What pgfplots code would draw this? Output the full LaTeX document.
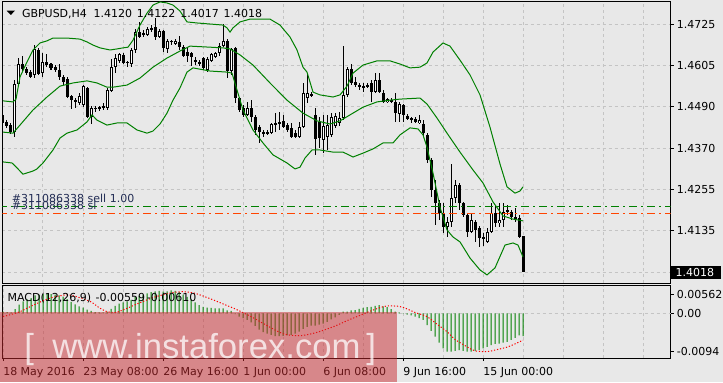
\documentclass[border=0pt]{standalone}
\usepackage{fontspec}
\setmainfont{DejaVu Sans}
\newfontfamily\wmfont{Liberation Sans}
\usepackage{pgfplots}
\pgfplotsset{compat=1.18}
\usepackage{pgfplotstable}
\definecolor{bg}{RGB}{232,232,232}
\definecolor{gridc}{RGB}{196,196,196}
\definecolor{mtgreen}{RGB}{0,128,0}
\definecolor{ordred}{RGB}{255,69,0}
\definecolor{ordtxt}{RGB}{35,45,85}
\definecolor{wmred}{RGB}{200,40,45}

\pgfplotstableread{
i o h l c
0 1.4466 1.4471 1.4437 1.4443
1 1.4446 1.4451 1.4429 1.4434
2 1.4437 1.4443 1.4412 1.4417
3 1.4417 1.4565 1.4403 1.4554
4 1.4554 1.4628 1.4548 1.4611
5 1.4611 1.4634 1.4588 1.4597
6 1.4597 1.4602 1.4580 1.4585
7 1.4588 1.4594 1.4571 1.4574
8 1.4580 1.4665 1.4571 1.4654
9 1.4651 1.4657 1.4580 1.4582
10 1.4585 1.4642 1.4574 1.4617
11 1.4617 1.4639 1.4602 1.4608
12 1.4611 1.4614 1.4594 1.4600
13 1.4602 1.4608 1.4588 1.4594
14 1.4594 1.4611 1.4565 1.4574
15 1.4574 1.4580 1.4551 1.4560
16 1.4568 1.4574 1.4514 1.4517
17 1.4520 1.4523 1.4483 1.4508
18 1.4508 1.4514 1.4486 1.4503
19 1.4500 1.4528 1.4494 1.4520
20 1.4494 1.4551 1.4488 1.4548
21 1.4543 1.4545 1.4457 1.4460
22 1.4460 1.4491 1.4440 1.4486
23 1.4486 1.4491 1.4474 1.4483
24 1.4488 1.4491 1.4477 1.4486
25 1.4486 1.4500 1.4480 1.4491
26 1.4486 1.4543 1.4480 1.4537
27 1.4534 1.4625 1.4531 1.4602
28 1.4602 1.4639 1.4585 1.4628
29 1.4620 1.4642 1.4614 1.4639
30 1.4637 1.4642 1.4611 1.4614
31 1.4617 1.4620 1.4602 1.4614
32 1.4611 1.4657 1.4602 1.4651
33 1.4651 1.4711 1.4642 1.4702
34 1.4702 1.4731 1.4685 1.4688
35 1.4694 1.4708 1.4688 1.4699
36 1.4694 1.4716 1.4691 1.4711
37 1.4714 1.4722 1.4702 1.4708
38 1.4716 1.4742 1.4679 1.4688
39 1.4688 1.4711 1.4685 1.4705
40 1.4705 1.4708 1.4645 1.4657
41 1.4654 1.4682 1.4642 1.4677
42 1.4674 1.4679 1.4665 1.4677
43 1.4668 1.4682 1.4665 1.4677
44 1.4674 1.4691 1.4651 1.4659
45 1.4659 1.4665 1.4631 1.4634
46 1.4645 1.4659 1.4617 1.4634
47 1.4642 1.4645 1.4605 1.4631
48 1.4622 1.4631 1.4608 1.4617
49 1.4611 1.4622 1.4605 1.4617
50 1.4628 1.4631 1.4594 1.4600
51 1.4594 1.4631 1.4588 1.4625
52 1.4620 1.4642 1.4617 1.4639
53 1.4631 1.4645 1.4628 1.4642
54 1.4642 1.4671 1.4634 1.4662
55 1.4662 1.4725 1.4659 1.4677
56 1.4677 1.4682 1.4571 1.4591
57 1.4591 1.4657 1.4580 1.4654
58 1.4657 1.4659 1.4500 1.4514
59 1.4514 1.4517 1.4474 1.4480
60 1.4486 1.4494 1.4460 1.4466
61 1.4466 1.4503 1.4463 1.4486
62 1.4486 1.4508 1.4446 1.4460
63 1.4460 1.4466 1.4409 1.4423
64 1.4431 1.4437 1.4386 1.4417
65 1.4417 1.4423 1.4403 1.4414
66 1.4414 1.4423 1.4409 1.4417
67 1.4414 1.4443 1.4412 1.4440
68 1.4440 1.4471 1.4417 1.4443
69 1.4440 1.4474 1.4423 1.4446
70 1.4449 1.4466 1.4429 1.4431
71 1.4437 1.4443 1.4417 1.4423
72 1.4429 1.4443 1.4400 1.4403
73 1.4414 1.4423 1.4400 1.4403
74 1.4403 1.4446 1.4400 1.4431
75 1.4431 1.4557 1.4429 1.4528
76 1.4514 1.4582 1.4500 1.4528
77 1.4520 1.4531 1.4517 1.4525
78 1.4466 1.4486 1.4352 1.4397
79 1.4446 1.4460 1.4372 1.4400
80 1.4394 1.4466 1.4357 1.4434
81 1.4403 1.4466 1.4366 1.4437
82 1.4409 1.4471 1.4403 1.4460
83 1.4434 1.4471 1.4429 1.4463
84 1.4443 1.4474 1.4434 1.4457
85 1.4457 1.4662 1.4451 1.4523
86 1.4523 1.4602 1.4517 1.4597
87 1.4597 1.4611 1.4551 1.4557
88 1.4560 1.4574 1.4545 1.4551
89 1.4551 1.4557 1.4537 1.4545
90 1.4545 1.4557 1.4531 1.4548
91 1.4548 1.4557 1.4543 1.4551
92 1.4557 1.4565 1.4503 1.4531
93 1.4531 1.4585 1.4528 1.4565
94 1.4565 1.4585 1.4528 1.4531
95 1.4528 1.4537 1.4500 1.4503
96 1.4503 1.4514 1.4500 1.4511
97 1.4508 1.4514 1.4500 1.4505
98 1.4503 1.4528 1.4446 1.4471
99 1.4468 1.4503 1.4446 1.4497
100 1.4494 1.4497 1.4446 1.4466
101 1.4463 1.4468 1.4451 1.4454
102 1.4457 1.4460 1.4443 1.4451
103 1.4454 1.4460 1.4443 1.4446
104 1.4443 1.4466 1.4440 1.4451
105 1.4440 1.4451 1.4403 1.4414
106 1.4409 1.4414 1.4329 1.4337
107 1.4337 1.4343 1.4232 1.4252
108 1.4252 1.4280 1.4152 1.4215
109 1.4215 1.4223 1.4166 1.4186
110 1.4186 1.4215 1.4129 1.4147
111 1.4147 1.4175 1.4118 1.4161
112 1.4161 1.4326 1.4147 1.4229
113 1.4229 1.4280 1.4215 1.4266
114 1.4266 1.4272 1.4195 1.4215
115 1.4215 1.4218 1.4175 1.4181
116 1.4181 1.4186 1.4118 1.4132
117 1.4132 1.4186 1.4129 1.4166
118 1.4161 1.4166 1.4104 1.4138
119 1.4144 1.4149 1.4090 1.4115
120 1.4118 1.4129 1.4092 1.4115
121 1.4104 1.4144 1.4101 1.4132
122 1.4132 1.4215 1.4129 1.4186
123 1.4186 1.4209 1.4147 1.4158
124 1.4158 1.4215 1.4147 1.4166
125 1.4166 1.4215 1.4147 1.4189
126 1.4195 1.4209 1.4181 1.4189
127 1.4189 1.4195 1.4166 1.4175
128 1.4175 1.4201 1.4161 1.4172
129 1.4172 1.4181 1.4115 1.4118
130 1.4120 1.4122 1.4017 1.4018
}\candles

\pgfplotstableread{
i m
0 0.0004
1 0.0003
2 0.0002
3 0.0010
4 0.0021
5 0.0029
6 0.0034
7 0.0037
8 0.0044
9 0.0045
10 0.0047
11 0.0048
12 0.0047
13 0.0046
14 0.0044
15 0.0041
16 0.0035
17 0.0028
18 0.0022
19 0.0017
20 0.0014
21 0.0009
22 0.0006
23 0.0003
24 0.0002
25 0.0002
26 0.0004
27 0.0011
28 0.0018
29 0.0024
30 0.0027
31 0.0029
32 0.0033
33 0.0040
34 0.0043
35 0.0046
36 0.0049
37 0.0052
38 0.0054
39 0.0055
40 0.0053
41 0.0054
42 0.0056
43 0.0055
44 0.0052
45 0.0046
46 0.0040
47 0.0034
48 0.0027
49 0.0020
50 0.0016
51 0.0014
52 0.0013
53 0.0012
54 0.0012
55 0.0012
56 0.0007
57 0.0006
58 -0.0002
59 -0.0008
60 -0.0012
61 -0.0016
62 -0.0022
63 -0.0031
64 -0.0040
65 -0.0046
66 -0.0050
67 -0.0053
68 -0.0056
69 -0.0056
70 -0.0055
71 -0.0054
72 -0.0053
73 -0.0050
74 -0.0045
75 -0.0038
76 -0.0033
77 -0.0030
78 -0.0030
79 -0.0028
80 -0.0025
81 -0.0021
82 -0.0015
83 -0.0010
84 -0.0004
85 0.0004
86 0.0004
87 0.0007
88 0.0008
89 0.0011
90 0.0013
91 0.0015
92 0.0016
93 0.0018
94 0.0020
95 0.0017
96 0.0015
97 0.0010
98 0.0004
99 0.0002
100 -0.0001
101 -0.0003
102 -0.0005
103 -0.0008
104 -0.0012
105 -0.0016
106 -0.0029
107 -0.0043
108 -0.0057
109 -0.0072
110 -0.0086
111 -0.0094
112 -0.0094
113 -0.0092
114 -0.0090
115 -0.0092
116 -0.0094
117 -0.0094
118 -0.0092
119 -0.0090
120 -0.0086
121 -0.0082
122 -0.0078
123 -0.0075
124 -0.0074
125 -0.0072
126 -0.0070
127 -0.0065
128 -0.0060
129 -0.0054
130 -0.0056
}\macd

\begin{document}
\begin{tikzpicture}[font=\fontsize{8.25}{10}\selectfont]
\fill[bg] (0,0) rectangle (542.25pt,286.5pt);
% ---------------- main price panel ----------------
\begin{axis}[
  at={(1.875pt,74.25pt)}, anchor=south west, scale only axis,
  width=501pt, height=211.5pt,
  xmin=-0.125, xmax=166.875, ymin=1.39869, ymax=1.47906,
  axis line style={black, line width=0.75pt},
  xtick={10,20,...,160}, xticklabels={}, xtick style={draw=none},
  ytick={1.47250,1.46070,1.44893,1.43716,1.42539,1.41354,1.40162},
  yticklabels={1.4725,1.4605,1.4490,1.4370,1.4255,1.4135,{}},
  ytick pos=right, yticklabel pos=right,
  tick align=outside, major tick length=2.25pt,
  ytick style={black, line width=0.75pt},
  yticklabel style={anchor=west, inner sep=0pt, xshift=2.3pt, font=\fontsize{8.25}{10}\selectfont},
  grid=major,
  major grid style={gridc, dash pattern=on 2.25pt off 2.25pt, line width=0.75pt},
]
% wicks
\addplot[draw=none, mark=none, forget plot, error bars/.cd, y dir=both, y explicit, error mark=none,
  error bar style={draw=black, line width=0.75pt, solid, line cap=butt}]
  table[x=i, y expr={(\thisrow{h}+\thisrow{l})/2}, y error expr={(\thisrow{h}-\thisrow{l})/2}] {\candles};
% bodies
\addplot[draw=none, mark=none, forget plot, error bars/.cd, y dir=both, y explicit, error mark=none,
  error bar style={draw=black, line width=2.25pt, solid, line cap=butt}]
  table[x=i, y expr={(\thisrow{o}+\thisrow{c})/2}, y error expr={max(abs(\thisrow{c}-\thisrow{o})/2,0.00015)}] {\candles};
% hollow (bullish) bodies
\addplot[draw=none, mark=none, forget plot, error bars/.cd, y dir=both, y explicit, error mark=none,
  error bar style={draw=white, line width=0.75pt, solid, line cap=butt}]
  table[x=i, y expr={(\thisrow{o}+\thisrow{c})/2}, y error expr={max((\thisrow{c}-\thisrow{o})/2-0.0003,0)}] {\candles};
% Bollinger bands
\addplot[mtgreen, line width=0.75pt] coordinates {
(0,1.4506) (2.5,1.4503) (3.25,1.4511) (4.25,1.4574) (6,1.4617) (7.5,1.4651) (9.25,1.4671) (11,1.4677) (12.5,1.4685) (16,1.4685) (19.25,1.4682) (21,1.4674) (22.5,1.4665) (24.25,1.4657) (26.75,1.4651) (28.5,1.4654) (30,1.4657) (31.25,1.4659) (32.5,1.4679) (34.25,1.4722) (36,1.4756) (37.5,1.4779) (39.25,1.4788) (41,1.4785) (42.5,1.4779) (44.25,1.4762) (46,1.4731) (48.5,1.4728) (51.75,1.4725) (55,1.4722) (56,1.4714) (56.75,1.4702) (57.5,1.4714) (59.25,1.4731) (61.75,1.4739) (66.75,1.4739) (69.25,1.4722) (71.75,1.4688) (73.5,1.4651) (75,1.4602) (76,1.4588) (77.5,1.4531) (79.25,1.4523) (82.5,1.4517) (84.25,1.4523) (86,1.4548) (87.5,1.4585) (90,1.4608) (93.5,1.4620) (96.75,1.4620) (99.25,1.4611) (101.75,1.4600) (104.25,1.4602) (106,1.4614) (107.5,1.4645) (110,1.4671) (111.75,1.4662) (114.25,1.4622) (116.75,1.4580) (119.25,1.4523) (121.75,1.4431) (124.25,1.4326) (126,1.4261) (128,1.4243) (129.25,1.4249) (130,1.4261)};
\addplot[mtgreen, line width=0.75pt] coordinates {
(0,1.4417) (2.5,1.4414) (4.25,1.4437) (7.5,1.4480) (11,1.4517) (14.25,1.4548) (17.5,1.4557) (21,1.4563) (23.5,1.4557) (26,1.4545) (27.5,1.4545) (31,1.4551) (34.25,1.4571) (37.5,1.4602) (41,1.4628) (44.25,1.4648) (46.75,1.4662) (51.75,1.4659) (55,1.4657) (56.75,1.4654) (59.25,1.4637) (62.5,1.4608) (66.75,1.4557) (71,1.4508) (75,1.4471) (78.5,1.4449) (81.75,1.4440) (84.25,1.4449) (86.75,1.4466) (90,1.4488) (93.5,1.4503) (96.75,1.4508) (99.25,1.4511) (104.25,1.4514) (106,1.4497) (108.5,1.4457) (111,1.4414) (114.25,1.4360) (117.5,1.4309) (120,1.4272) (122.5,1.4218) (125,1.4178) (127.5,1.4169) (130,1.4164)};
\addplot[mtgreen, line width=0.75pt] coordinates {
(0,1.4332) (2.25,1.4329) (3.5,1.4315) (5,1.4297) (7.5,1.4306) (8.5,1.4312) (10,1.4329) (12.5,1.4366) (14.25,1.4400) (16,1.4414) (18.5,1.4423) (21,1.4446) (22.25,1.4466) (23.5,1.4451) (26,1.4437) (28.5,1.4443) (31,1.4443) (33.5,1.4423) (36,1.4414) (37.5,1.4420) (39.25,1.4440) (41,1.4471) (42.5,1.4508) (44.25,1.4543) (46,1.4588) (47.5,1.4600) (51.75,1.4591) (56,1.4588) (57.25,1.4585) (58.5,1.4537) (60,1.4480) (62.5,1.4423) (65,1.4386) (67.5,1.4352) (71,1.4329) (73,1.4312) (74.25,1.4317) (75.5,1.4343) (77.25,1.4366) (79.25,1.4366) (82.5,1.4360) (85,1.4360) (87.5,1.4346) (90,1.4357) (92.5,1.4369) (95,1.4386) (97.5,1.4386) (99.25,1.4409) (101.75,1.4429) (103.75,1.4426) (105,1.4409) (106,1.4374) (107.5,1.4300) (109.25,1.4203) (111,1.4138) (112.5,1.4118) (114.25,1.4104) (116.75,1.4058) (119.25,1.4024) (121,1.4010) (123,1.4030) (125.5,1.4095) (127.5,1.4101) (128.75,1.4095) (130,1.4061)};
% order levels
\addplot[mtgreen, line width=0.75pt, dash pattern=on 6pt off 3pt on 1.5pt off 3pt] coordinates {(-1,1.4206) (170,1.4206)};
\addplot[ordred, line width=0.75pt, dash pattern=on 6pt off 3pt on 1.5pt off 3pt] coordinates {(-1,1.4185) (170,1.4185)};
\end{axis}
% ---------------- MACD panel ----------------
\begin{axis}[
  at={(1.875pt,18pt)}, anchor=south west, scale only axis,
  width=501pt, height=54.375pt,
  xmin=-0.125, xmax=166.875, ymin=-0.010952, ymax=0.006811,
  axis line style={black, line width=0.75pt},
  xtick={0,20,...,120},
  xticklabels={18 May 2016,23 May 08:00,26 May 16:00,1 Jun 00:00,6 Jun 08:00,9 Jun 16:00,15 Jun 00:00},
  minor xtick={10,30,50,70,90,110,130,140,150,160},
  xmajorgrids, xminorgrids, minor tick length=0pt,
  xtick pos=left, ytick pos=right, yticklabel pos=right,
  tick align=outside, major tick length=2.25pt,
  tick style={black, line width=0.75pt},
  xticklabel style={anchor=west, inner sep=0pt, yshift=-8.5pt, font=\fontsize{8.25}{10}\selectfont},
  ytick={0.004557,-0.009237}, yticklabels={0.00562,-0.0094},
  extra y ticks={0}, extra y tick labels={0.00},
  extra y tick style={ymajorgrids},
  yticklabel style={anchor=west, inner sep=0pt, xshift=2.3pt, font=\fontsize{8.25}{10}\selectfont},
  major grid style={gridc, dash pattern=on 2.25pt off 2.25pt, line width=0.75pt},
  minor grid style={gridc, dash pattern=on 2.25pt off 2.25pt, line width=0.75pt},
  scaled y ticks=false,
]
\addplot[ybar, bar width=0.75pt, fill=mtgreen, draw=none] table[x=i, y=m] {\macd};
\addplot[red, line width=0.75pt, dash pattern=on 0.9pt off 1.4pt, smooth] coordinates {
(0,-0.0008) (4,0.0003) (8,0.0022) (12,0.0038) (16,0.0045) (19,0.0039) (22,0.0028) (24,0.0014) (26,0.0004) (28,0.0002) (30,0.0008) (34,0.0025) (38,0.0040) (42,0.0050) (45,0.0053) (48,0.0049) (52,0.0035) (56,0.0019) (58,0.0011) (62,-0.0008) (66,-0.0030) (70,-0.0050) (74,-0.0055) (78,-0.0048) (82,-0.0035) (84,-0.0027) (86,-0.0018) (88,-0.0010) (92,0.0006) (94,0.0013) (96,0.0018) (99,0.0017) (101,0.0011) (103,0.0002) (106,-0.0008) (108,-0.0023) (111,-0.0045) (113,-0.0064) (116,-0.0082) (118,-0.0092) (121,-0.0094) (123,-0.0090) (126,-0.0083) (128,-0.0075) (130,-0.0066)};
\end{axis}
% ---------------- texts ----------------
\fill[black] (5pt,278.5pt) -- (11.25pt,278.5pt) -- (8.1pt,275.25pt) -- cycle;
\node[anchor=base west, inner sep=0pt] at (16.3pt,273.6pt) {GBPUSD,H4};
\node[anchor=base west, inner sep=0pt] at (70pt,273.6pt) {1.4120};
\node[anchor=base west, inner sep=0pt] at (102.5pt,273.6pt) {1.4122};
\node[anchor=base west, inner sep=0pt] at (135pt,273.6pt) {1.4017};
\node[anchor=base west, inner sep=0pt] at (167.5pt,273.6pt) {1.4018};
\node[anchor=base west, inner sep=0pt] at (5.5pt,60.3pt) {MACD(12,26,9)};
\node[anchor=base west, inner sep=0pt] at (71.5pt,60.3pt) {-0.00559};
\node[anchor=base west, inner sep=0pt] at (110pt,60.3pt) {-0.00610};
\node[anchor=base west, inner sep=0pt, text=ordtxt] at (8.8pt,134.5pt) {\#311086338 sell 1.00};
\node[anchor=base west, inner sep=0pt, text=ordtxt] at (8.8pt,129pt) {\#311086338 sl};
% bid box
\fill[black] (503.6pt,77pt) rectangle (540.75pt,87pt);
\node[anchor=west, inner sep=0pt, text=white] at (506.5pt,82.1pt) {1.4018};
% watermark
\fill[wmred, opacity=0.5] (0,0) rectangle (297.75pt,52.3pt);
\node[anchor=base west, inner sep=0pt, text=white, opacity=0.75, font=\wmfont\fontsize{26}{30}\selectfont] at (18pt,18pt) {[};
\node[anchor=base west, inner sep=0pt, text=white, opacity=0.75, font=\wmfont\fontsize{26}{30}\selectfont] at (39pt,18pt) {www.instaforex.com};
\node[anchor=base west, inner sep=0pt, text=white, opacity=0.75, font=\wmfont\fontsize{26}{30}\selectfont] at (274.5pt,18pt) {]};
\pgfresetboundingbox
\useasboundingbox (0,0) rectangle (542.25pt,286.5pt);
\end{tikzpicture}
\end{document}
